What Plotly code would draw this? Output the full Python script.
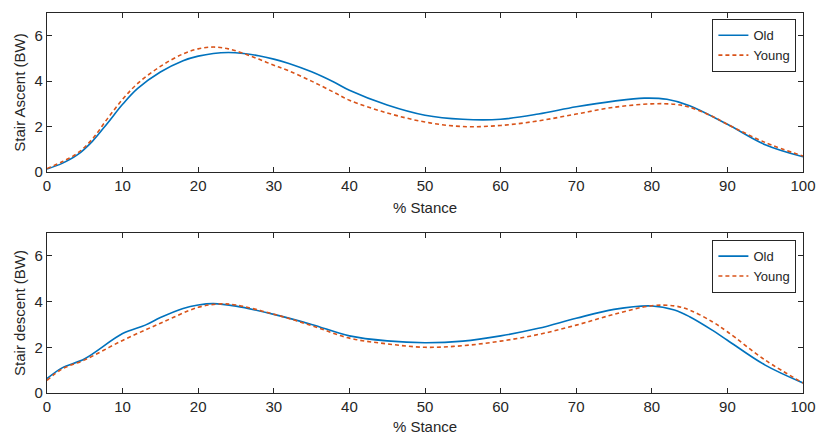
import plotly.graph_objects as go
from plotly.subplots import make_subplots

# % stance sample points and vertical force (BW)
asc_x_old = [0, 2, 4, 6, 8, 10, 12, 15, 18, 20, 22, 24, 26, 28, 30, 32, 35, 38, 40, 45, 50,
             55, 60, 65, 70, 75, 79, 82, 85, 90, 95, 100]
asc_old = [0.13, 0.38, 0.75, 1.35, 2.15, 2.98, 3.68, 4.4, 4.9, 5.1, 5.22, 5.26, 5.22, 5.12,
           4.97, 4.78, 4.41, 3.95, 3.6, 2.95, 2.5, 2.32, 2.32, 2.55, 2.87, 3.12, 3.25, 3.2,
           2.92, 2.1, 1.2, 0.67]

asc_x_young = [0, 2, 4, 6, 8, 10, 12, 15, 18, 20, 22, 24, 26, 28, 30, 32, 35, 38, 40, 45,
               50, 55, 60, 65, 70, 75, 80, 83, 85, 88, 90, 95, 100]
asc_young = [0.15, 0.45, 0.82, 1.45, 2.35, 3.2, 3.9, 4.65, 5.2, 5.42, 5.5, 5.42, 5.22, 4.97,
             4.7, 4.45, 4.0, 3.5, 3.16, 2.6, 2.2, 2.0, 2.05, 2.25, 2.55, 2.85, 3.0, 2.98,
             2.85, 2.45, 2.1, 1.3, 0.7]

desc_x_old = [0, 2, 5, 10, 13, 15, 18, 20, 22, 25, 30, 35, 40, 45, 50, 55, 60, 65, 70, 75,
              80, 83, 85, 88, 90, 95, 100]
desc_old = [0.63, 1.1, 1.5, 2.6, 2.97, 3.3, 3.7, 3.85, 3.91, 3.8, 3.44, 3.0, 2.5, 2.28, 2.2,
            2.27, 2.5, 2.83, 3.27, 3.66, 3.81, 3.63, 3.34, 2.75, 2.31, 1.22, 0.44]

desc_x_young = [0, 2, 5, 10, 15, 20, 23, 25, 30, 35, 40, 45, 50, 55, 60, 65, 70, 75, 80, 83,
                85, 88, 90, 95, 100]
desc_young = [0.55, 1.05, 1.45, 2.3, 3.05, 3.75, 3.9, 3.85, 3.45, 2.95, 2.4, 2.15, 2.0, 2.07,
              2.27, 2.56, 2.97, 3.44, 3.82, 3.81, 3.63, 3.12, 2.68, 1.44, 0.44]

x_ticks = [0, 10, 20, 30, 40, 50, 60, 70, 80, 90, 100]
y_ticks = [0, 2, 4, 6]

BLUE = '#0072BD'
ORANGE = '#D95319'
AX = '#262626'

fig = make_subplots(rows=2, cols=1, vertical_spacing=0.16)

old_line = dict(color=BLUE, width=1.6, shape='spline', smoothing=1.0)
young_line = dict(color=ORANGE, width=1.6, dash='4px,3px', shape='spline', smoothing=1.0)

fig.add_trace(go.Scatter(x=asc_x_old, y=asc_old, name='Old', mode='lines',
                         line=old_line, legend='legend'), row=1, col=1)
fig.add_trace(go.Scatter(x=asc_x_young, y=asc_young, name='Young', mode='lines',
                         line=young_line, legend='legend'), row=1, col=1)
fig.add_trace(go.Scatter(x=desc_x_old, y=desc_old, name='Old', mode='lines',
                         line=old_line, legend='legend2'), row=2, col=1)
fig.add_trace(go.Scatter(x=desc_x_young, y=desc_young, name='Young', mode='lines',
                         line=young_line, legend='legend2'), row=2, col=1)

axis_style = dict(showgrid=False, zeroline=False, showline=True, linecolor=AX, linewidth=1.4,
                  mirror='ticks', ticks='inside', ticklen=5, tickcolor=AX, tickwidth=1.2,
                  tickfont=dict(size=15, color=AX), automargin=False)

fig.update_xaxes(range=[0, 100], tickvals=x_ticks, **axis_style)
fig.update_yaxes(range=[0, 7], tickvals=y_ticks, **axis_style)
fig.update_xaxes(domain=[0, 1])
fig.update_yaxes(domain=[0.5816, 1], row=1, col=1)
fig.update_yaxes(domain=[0, 0.421], row=2, col=1)

for r in (1, 2):
    fig.update_xaxes(title=dict(text='% Stance', font=dict(size=15, color=AX), standoff=9),
                     row=r, col=1)
fig.update_yaxes(title=dict(text='Stair Ascent (BW)', font=dict(size=15, color=AX), standoff=5),
                 row=1, col=1)
fig.update_yaxes(title=dict(text='Stair descent (BW)', font=dict(size=15, color=AX), standoff=5),
                 row=2, col=1)

legend_style = dict(xanchor='right', yanchor='top', bgcolor='white', bordercolor=AX,
                    borderwidth=1.2, font=dict(size=13, color=AX), itemwidth=30,
                    tracegroupgap=0)

fig.update_layout(
    width=816, height=435,
    margin=dict(l=47, r=13, t=13, b=42),
    paper_bgcolor='white', plot_bgcolor='white',
    font=dict(family='Liberation Sans, Arial, sans-serif', size=15, color=AX),
    legend=dict(x=0.991, y=0.984, **legend_style),
    legend2=dict(x=0.991, y=0.4026, **legend_style),
    showlegend=True,
)

fig.write_html('out.html', config={'displayModeBar': False},
               post_script="document.body.style.margin='0';")
